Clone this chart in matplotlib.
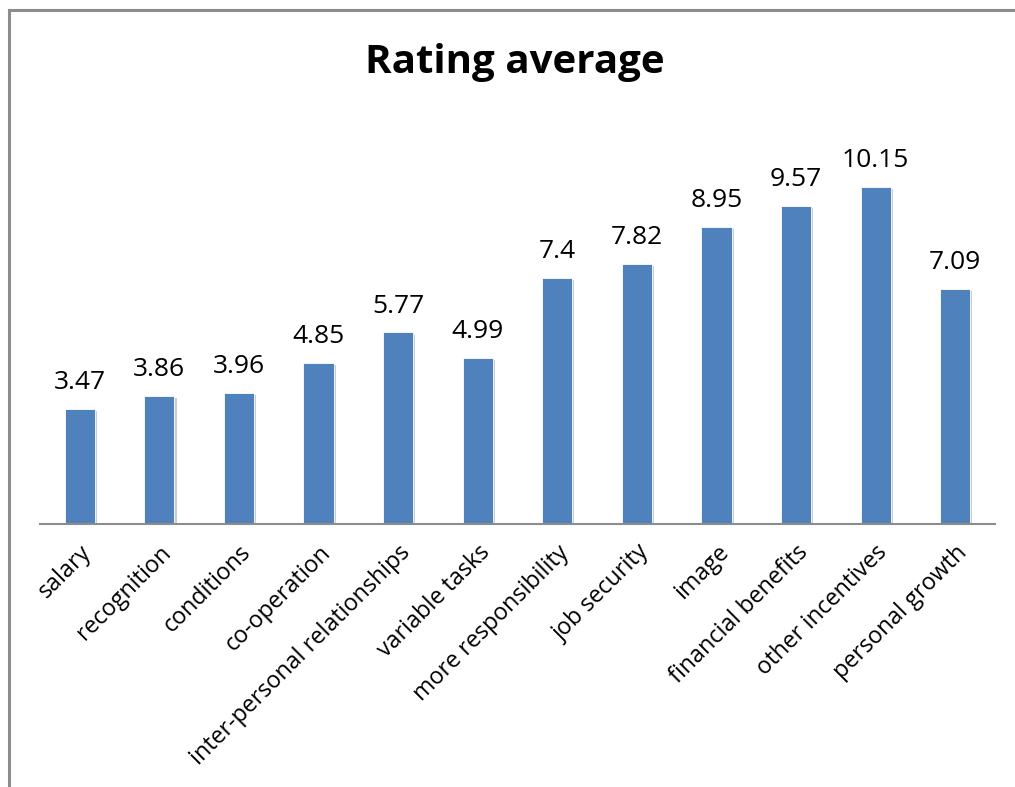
import matplotlib
matplotlib.use("Agg")
import matplotlib.pyplot as plt
from matplotlib.lines import Line2D
import matplotlib.patheffects as pe

categories = ["salary", "recognition", "conditions", "co-operation",
              "inter-personal relationships", "variable tasks",
              "more responsibility", "job security", "image",
              "financial benefits", "other incentives", "personal growth"]
values = [3.47, 3.86, 3.96, 4.85, 5.77, 4.99, 7.4, 7.82, 8.95, 9.57, 10.15, 7.09]
value_labels = ["3.47", "3.86", "3.96", "4.85", "5.77", "4.99", "7.4", "7.82",
                "8.95", "9.57", "10.15", "7.09"]

plt.rcParams['font.family'] = ['Open Sans', 'DejaVu Sans']

W, H = 1015, 787
fig = plt.figure(figsize=(W / 100, H / 100), dpi=100)

# outer chart frame: only its left and top edges fall inside the image
frame_kw = dict(transform=fig.transFigure, color="#8c8c8c", linewidth=2.2)
fig.add_artist(Line2D([8.5 / W, 8.5 / W], [0, 1 - 10 / H], **frame_kw))
fig.add_artist(Line2D([8.5 / W, 1.0], [1 - 10 / H, 1 - 10 / H], **frame_kw))

ax = fig.add_axes([40 / W, (H - 524) / H, 955 / W, (524 - 125.6) / H])
x = range(len(categories))
bars = ax.bar(x, values, width=0.38, color="#4F81BD", edgecolor="white",
              linewidth=0.6, zorder=2)
for b in bars:
    b.set_path_effects([pe.SimplePatchShadow(offset=(1.5, -1.5),
                                             shadow_rgbFace="#9a9a9a", alpha=0.5),
                        pe.Normal()])

for xi, v, lab in zip(x, values, value_labels):
    ax.annotate(lab, (xi, v), xytext=(0, 10), textcoords="offset points",
                ha="center", va="bottom", fontsize=19, color="black")

ax.set_xlim(-0.5, len(categories) - 0.5)
ax.set_ylim(0, 12)
ax.set_yticks([])
ax.set_xticks(list(x))
ax.set_xticklabels(categories, rotation=45, ha="right", rotation_mode="anchor",
                   fontsize=16.8)
ax.tick_params(axis="x", length=0, pad=12)
for s in ["top", "right", "left"]:
    ax.spines[s].set_visible(False)
ax.spines["bottom"].set_color("#8c8c8c")
ax.spines["bottom"].set_linewidth(1.5)

fig.text(515 / W, 1 - 63 / H, "Rating average", ha="center", va="center",
         fontsize=29, fontweight="bold")

fig.savefig("out.png", dpi=100, facecolor="white")
